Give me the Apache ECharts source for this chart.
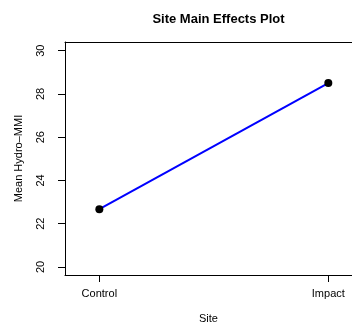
<!DOCTYPE html>
<html>
<head>
<meta charset="utf-8">
<script src="https://cdn.jsdelivr.net/npm/echarts@6/dist/echarts.min.js"></script>
<style>html,body{margin:0;padding:0;background:#fff}#c{width:352px;height:324px}</style>
</head>
<body>
<div id="c"></div>
<script>
const categories = ['Control', 'Impact'];
const positions = [1, 2];
const meanValues = [22.67, 28.5];
const yTicks = [20, 22, 24, 26, 28, 30];

const FONT = 'Liberation Sans, Arial, Helvetica, sans-serif';
const chart = echarts.init(document.getElementById('c'), null, {renderer: 'canvas'});
chart.setOption({
  animation: false,
  backgroundColor: '#fff',
  title: {
    text: 'Site Main Effects Plot',
    left: 213.5, top: 8, textAlign: 'center',
    textStyle: {fontFamily: FONT, fontSize: 13, fontWeight: 'bold', color: '#000'}
  },
  grid: {left: 65, right: 0, top: 42, bottom: 49, show: false, containLabel: false, outerBoundsMode: 'none'},
  xAxis: [{
    type: 'value', min: 0.85, max: 2.1035,
    name: 'Site', nameLocation: 'middle', nameGap: 38,
    nameTextStyle: {fontFamily: FONT, fontSize: 11, color: '#000'},
    axisLine: {show: true, lineStyle: {color: '#000', width: 1}},
    splitLine: {show: false},
    axisTick: {show: true, length: 7, lineStyle: {color: '#000'}, customValues: positions},
    axisLabel: {fontFamily: FONT, fontSize: 11, color: '#000', margin: 13, customValues: positions,
      formatter: v => categories[positions.indexOf(v)] || ''}
  }, {
    type: 'value', position: 'top', min: 0.85, max: 2.1035,
    axisLine: {show: true, lineStyle: {color: '#000', width: 1}},
    axisTick: {show: false}, axisLabel: {show: false}, splitLine: {show: false}
  }],
  yAxis: {
    type: 'value', min: 19.63, max: 30.4,
    name: 'Mean Hydro\u2013MMI', nameLocation: 'middle', nameGap: 41, nameRotate: 90,
    nameTextStyle: {fontFamily: FONT, fontSize: 11, color: '#000'},
    axisLine: {show: true, lineStyle: {color: '#000', width: 1}},
    splitLine: {show: false},
    axisTick: {show: true, length: 7, lineStyle: {color: '#000'}, customValues: yTicks},
    axisLabel: {fontFamily: FONT, fontSize: 11, color: '#000', rotate: 90, margin: 19, customValues: yTicks}
  },
  series: [{
    type: 'line',
    xAxisIndex: 0,
    data: positions.map((p, i) => [p, meanValues[i]]),
    lineStyle: {color: '#0000FF', width: 2},
    itemStyle: {color: '#000'},
    symbol: 'circle', symbolSize: 8, showSymbol: true
  }]
});
</script>
</body>
</html>
